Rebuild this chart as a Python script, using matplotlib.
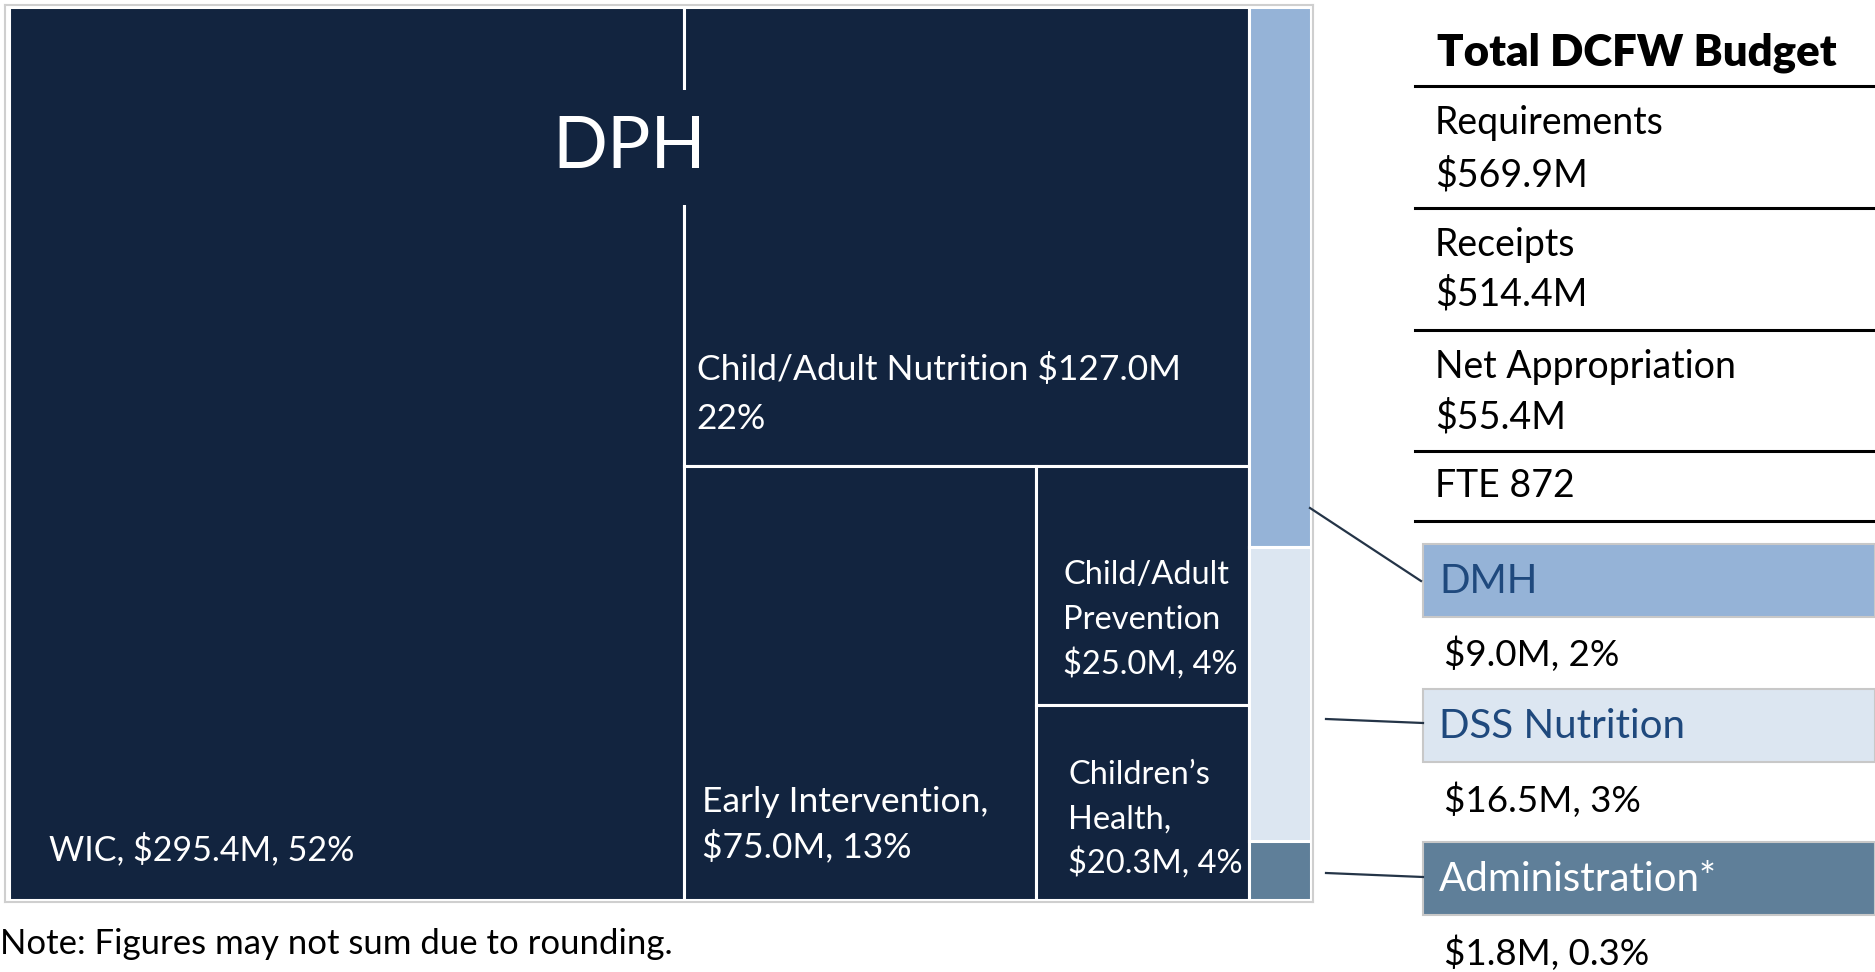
import matplotlib.pyplot as plt
from matplotlib.patches import Rectangle
from matplotlib.lines import Line2D

plt.rcParams['font.family'] = ['Lato', 'DejaVu Sans']

# DPH programs ($M)
dph_names = ['WIC', 'Child/Adult Nutrition', 'Early Intervention',
             'Child/Adult Prevention', "Children's Health"]
dph_values = [295.4, 127.0, 75.0, 25.0, 20.3]

# other departments, as stacked top to bottom in the right column
other_names = ['DMH', 'DSS Nutrition', 'Administration*']
other_values = [16.5, 9.0, 1.8]
other_labels = ['$9.0M, 2%', '$16.5M, 3%', '$1.8M, 0.3%']

budget_rows = [['Requirements', '$569.9M'], ['Receipts', '$514.4M'],
               ['Net Appropriation', '$55.4M'], ['FTE 872']]

NAVY = '#12243f'
other_colors = ['#95b3d7', '#dce6f1', '#5f7f99']
other_text = ['#1f497d', '#1f497d', 'white']

W, H = 1875, 972
fig = plt.figure(figsize=(W / 100, H / 100), dpi=100)


def fx(x, y):
    # pixel position (from top-left) to figure fraction
    return x / W, 1 - y / H


# ---- treemap layout (unit square, y downwards) ----
total = sum(dph_values) + sum(other_values)
dph_total = sum(dph_values)
dph_w = dph_total / total
rects = {}
wic_w = dph_w * dph_values[0] / dph_total
rects['WIC'] = (0, 0, wic_w, 1)
rest_x, rest_w = wic_w, dph_w - wic_w
rest_total = sum(dph_values[1:])
nut_h = dph_values[1] / rest_total
rects['Child/Adult Nutrition'] = (rest_x, 0, rest_w, nut_h)
low_total = sum(dph_values[2:])
ei_w = rest_w * dph_values[2] / low_total
rects['Early Intervention'] = (rest_x, nut_h, ei_w, 1 - nut_h)
col_x, col_w = rest_x + ei_w, rest_w - ei_w
prev_h = (1 - nut_h) * dph_values[3] / (dph_values[3] + dph_values[4])
rects['Child/Adult Prevention'] = (col_x, nut_h, col_w, prev_h)
rects["Children's Health"] = (col_x, nut_h + prev_h, col_w, 1 - nut_h - prev_h)
y = 0
other_sum = sum(other_values)
for n, v in zip(other_names, other_values):
    rects[n] = (dph_w, y, 1 - dph_w, v / other_sum)
    y += v / other_sum

ax = fig.add_axes([5 / W, 1 - 902 / H, 1308 / W, 897 / H])
ax.set_xlim(-0.0027, 1.0013)
ax.set_ylim(1.0028, -0.0028)
ax.set_xticks([])
ax.set_yticks([])
for s in ax.spines.values():
    s.set_color('#cfcfcf')
    s.set_linewidth(1.5)

for n in dph_names:
    x0, y0, w, h = rects[n]
    ax.add_patch(Rectangle((x0, y0), w, h, facecolor=NAVY, edgecolor='white', lw=2.2))
for n, c in zip(other_names, other_colors):
    x0, y0, w, h = rects[n]
    ax.add_patch(Rectangle((x0, y0), w, h, facecolor=c, edgecolor='white', lw=2.2))

ax.text(dph_w / 2, 0.157, 'DPH', color='white', fontsize=52, ha='center', va='center',
        bbox=dict(boxstyle='square,pad=0.35', facecolor=NAVY, edgecolor='none'))

# labels: (rect, lines, x offset px, y offsets px from rect bottom, font size)
tm_labels = [
    ('WIC', ['WIC, $295.4M, 52%'], 40, [50], 24.5),
    ('Child/Adult Nutrition', ['Child/Adult Nutrition $127.0M', '22%'], 13, [96, 47], 25.5),
    ('Early Intervention', ['Early Intervention,', '$75.0M, 13%'], 18, [98, 53], 25.5),
    ('Child/Adult Prevention', ['Child/Adult', 'Prevention', '$25.0M, 4%'], 27, [130, 85, 42], 23.5),
    ("Children's Health", ['Children\u2019s', 'Health,', '$20.3M, 4%'], 32, [125, 80, 37], 23.5),
]
for n, lines, dx, dys, fs in tm_labels:
    x0, y0, w, h = rects[n]
    for line, dy in zip(lines, dys):
        ax.annotate(line, (x0, y0 + h), xytext=(dx, dy), textcoords='offset pixels',
                    color='white', fontsize=fs, va='center', ha='left')

# ---- right panel ----
fig.text(*fx(1437, 53), 'Total DCFW Budget', fontsize=31.5, fontweight='heavy',
         va='center', ha='left')
rule_y = [86, 208, 330, 451, 521]
for ry in rule_y:
    fig.add_artist(Line2D([1415 / W, 1], [1 - ry / H] * 2, color='black', lw=2.2))
row_y = [[123, 175], [245, 294], [367, 417], [486]]
for row, ys in zip(budget_rows, row_y):
    for t, ty in zip(row, ys):
        fig.text(*fx(1435, ty), t, fontsize=27, va='center', ha='left')

box_top = [544, 689, 842]
amount_y = [654, 800, 953]
conn = [((1310, 508), (1421, 581)), ((1326, 719), (1423, 723)), ((1326, 873), (1423, 877))]
for i, n in enumerate(other_names):
    bt = box_top[i]
    fig.add_artist(Rectangle(fx(1423, bt + 73), 1 - 1423 / W, 73 / H,
                             facecolor=other_colors[i], edgecolor='#c8c8c8', lw=1.5))
    fig.text(*fx(1439, bt + 37), n, fontsize=29, color=other_text[i], va='center', ha='left')
    fig.text(*fx(1444, amount_y[i]), other_labels[i], fontsize=26.5, va='center', ha='left')
    (x1, y1), (x2, y2) = conn[i]
    fig.add_artist(Line2D([x1 / W, x2 / W], [1 - y1 / H, 1 - y2 / H], color='#243447', lw=1.6))

fig.text(*fx(0, 944), 'Note: Figures may not sum due to rounding.', fontsize=25,
         va='center', ha='left')

fig.savefig('out.png', dpi=100)
